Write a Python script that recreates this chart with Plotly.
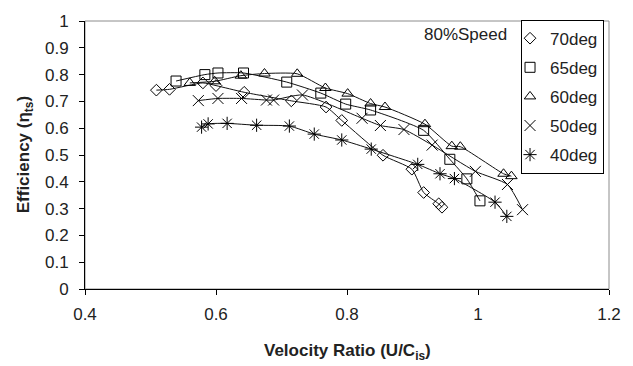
import plotly.graph_objects as go

# ---- data ----
x70 = [0.509, 0.529, 0.580, 0.600, 0.643, 0.715, 0.768, 0.792, 0.855, 0.899, 0.917, 0.940, 0.945]
y70 = [0.742, 0.745, 0.769, 0.759, 0.734, 0.702, 0.679, 0.629, 0.499, 0.447, 0.360, 0.318, 0.305]

x65 = [0.539, 0.583, 0.603, 0.642, 0.708, 0.760, 0.798, 0.836, 0.917, 0.957, 0.983, 1.003]
y65 = [0.776, 0.800, 0.806, 0.806, 0.772, 0.731, 0.690, 0.668, 0.592, 0.484, 0.411, 0.329]

x60 = [0.560, 0.598, 0.638, 0.674, 0.724, 0.767, 0.801, 0.836, 0.858, 0.919, 0.960, 0.973, 1.039, 1.051]
y60 = [0.769, 0.775, 0.796, 0.804, 0.803, 0.750, 0.729, 0.692, 0.679, 0.615, 0.533, 0.531, 0.430, 0.421]

x50 = [0.573, 0.603, 0.639, 0.677, 0.688, 0.732, 0.823, 0.851, 0.887, 0.930, 0.996, 1.045, 1.068]
y50 = [0.703, 0.711, 0.711, 0.705, 0.705, 0.724, 0.637, 0.610, 0.595, 0.537, 0.439, 0.390, 0.296]

x40 = [0.578, 0.588, 0.617, 0.662, 0.712, 0.750, 0.792, 0.837, 0.908, 0.942, 0.964, 1.026, 1.044]
y40 = [0.604, 0.616, 0.618, 0.611, 0.608, 0.578, 0.556, 0.522, 0.465, 0.430, 0.412, 0.324, 0.271]

names = ["70deg", "65deg", "60deg", "50deg", "40deg"]
xs = [x70, x65, x60, x50, x40]
ys = [y70, y65, y60, y50, y40]
symbols = ["diamond-open", "square-open", "triangle-up-open", "x-thin-open", "asterisk-open"]
sizes = [9, 10, 10, 11, 11]

FONT = "Arial, Liberation Sans, sans-serif"

fig = go.Figure()
for name, x, y, sym, sz in zip(names, xs, ys, symbols, sizes):
    fig.add_trace(go.Scatter(
        x=x, y=y, mode="lines", legendgroup=name, showlegend=False,
        line=dict(color="#111", width=1, shape="spline", smoothing=0.55),
        hoverinfo="skip"))
    fig.add_trace(go.Scatter(
        x=x, y=y, mode="markers", name=name, legendgroup=name,
        marker=dict(symbol=sym, size=sz, color="black", line=dict(color="black", width=1))))

fig.update_layout(
    width=633, height=366,
    margin=dict(l=85, r=22, t=15, b=77),
    paper_bgcolor="white", plot_bgcolor="white",
    font=dict(family=FONT, size=17, color="black"),
    showlegend=True,
    legend=dict(
        x=0.9905, xanchor="right", y=1.005, yanchor="top",
        bordercolor="black", borderwidth=1, bgcolor="white",
        font=dict(family=FONT, size=17, color="#222"),
        tracegroupgap=4, itemwidth=30, indentation=-12,
    ),
    xaxis=dict(
        range=[0.4, 1.2], tick0=0.4, dtick=0.2, showgrid=False, zeroline=False,
        showline=True, linecolor="black", linewidth=1,
        ticks="outside", ticklen=5, tickcolor="black", ticklabelstandoff=5,
        tickfont=dict(family=FONT, size=17, color="#222"),
    ),
    yaxis=dict(
        range=[0, 1], dtick=0.1, showgrid=False, zeroline=False,
        showline=True, linecolor="black", linewidth=1,
        ticks="outside", ticklen=5, tickcolor="black", ticklabelstandoff=7,
        tickfont=dict(family=FONT, size=17, color="#222"),
    ),
    shapes=[dict(type="rect", xref="paper", yref="paper", x0=0, x1=1, y0=0, y1=1,
                 line=dict(color="#8c8c8c", width=1), layer="below")],
    annotations=[
        dict(text="<b>Velocity Ratio (U/C<sub>is</sub>)</b>", xref="paper", yref="paper",
             x=0.5, y=-0.235, xanchor="center", yanchor="middle", showarrow=False,
             font=dict(family=FONT, size=17, color="#222")),
        dict(text="<b>Efficiency (η<sub>ts</sub>)</b>", xref="paper", yref="paper",
             x=-0.114, y=0.5, xanchor="center", yanchor="middle", textangle=-90,
             showarrow=False, font=dict(family=FONT, size=17, color="#222")),
        dict(text="80%Speed", xref="paper", yref="paper",
             x=0.6426, y=0.95, xanchor="left", yanchor="middle", showarrow=False,
             font=dict(family=FONT, size=17, color="#222")),
    ],
)

fig.write_html("out.html")
